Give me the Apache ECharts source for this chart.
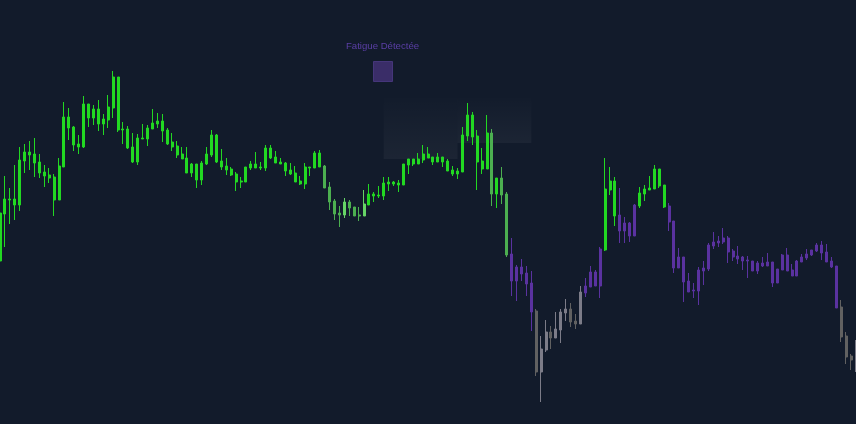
<!DOCTYPE html>
<html>
<head>
<meta charset="utf-8">
<script src="https://cdn.jsdelivr.net/npm/echarts@6/dist/echarts.min.js"></script>
<style>
  html, body { margin: 0; padding: 0; background: #121b2b; }
  #main { width: 856px; height: 424px; }
</style>
</head>
<body>
<div id="main"></div>
<script>
// candles: open, close, low, high
var open = [163,210,225,225,219,263,272,270,262,252,249,247,224,257,307,297,280,277,320,306,
  315,300,304,316,347,294,295,277,262,286,285,295,300,303,294,282,278,270,266,251,
  260,244,260,269,289,263,258,255,250,243,242,256,260,256,256,276,267,262,261,254,
  251,243,240,257,256,271,258,237,223,211,209,222,217,208,208,219,230,228,228,242,
  240,241,239,259,265,260,264,270,267,262,267,263,254,253,252,288,309,288,263,255,
  291,230,246,230,170,143,157,151,141,113,52,74,92,86,94,111,115,103,100,131,
  137,152,138,174,234,243,209,193,201,188,218,230,234,235,255,239,218,203,156,167,
  143,133,133,153,155,178,183,182,186,173,168,167,164,163,153,161,158,162,141,154,
  169,154,148,162,166,169,173,179,172,163,158,117,88,68,56];
var close = [211,225,224,219,264,272,269,261,251,248,246,224,258,307,296,279,277,320,306,315,
  300,305,317,347,294,295,276,262,286,285,296,301,303,293,280,277,269,265,251,260,
  244,261,270,289,262,257,254,249,242,242,257,260,256,257,276,266,261,260,253,250,
  242,240,257,256,271,257,236,222,210,209,222,216,208,209,220,230,228,229,241,240,
  242,239,260,265,260,265,270,266,262,267,262,253,250,250,289,309,287,262,255,291,
  230,246,229,169,143,157,150,140,112,52,75,92,86,95,112,115,102,100,132,138,
  152,138,175,235,243,208,193,201,188,219,231,235,236,255,238,217,202,156,167,142,
  132,134,154,156,179,182,181,186,172,167,165,163,163,153,161,158,162,141,155,169,
  153,148,163,167,170,174,179,171,162,157,116,87,67,64,76];
var low = [162,177,200,204,213,251,254,247,246,237,241,208,224,257,284,273,270,276,297,299,
  293,289,296,306,292,280,275,261,259,285,278,295,296,282,279,273,266,265,251,247,
  236,239,259,267,261,254,249,248,233,236,242,254,256,254,253,265,261,260,248,249,
  242,239,235,248,256,257,236,214,204,197,206,208,208,203,208,219,222,226,224,233,
  238,232,239,250,258,260,261,266,259,262,257,253,248,245,252,283,279,234,250,255,
  218,216,220,167,128,123,143,128,93,48,22,72,75,86,81,103,97,95,100,127,
  137,138,126,173,229,198,181,181,182,188,216,223,234,235,236,216,193,151,156,122,
  132,126,119,139,153,175,177,180,161,163,160,154,146,153,150,157,158,137,141,154,
  153,148,148,162,164,168,172,164,162,156,116,82,60,54,52];
var high = [216,248,236,259,277,280,283,286,270,259,256,250,266,322,316,298,289,328,320,319,
  324,310,329,353,347,302,298,291,290,300,299,315,311,310,296,291,283,277,277,261,
  260,263,277,294,290,275,266,257,252,247,257,263,272,262,279,279,273,266,262,261,
  258,248,261,257,273,274,259,242,225,218,226,224,217,217,234,240,232,238,247,247,
  243,244,260,265,265,271,279,277,267,271,267,265,258,256,297,321,312,294,276,309,
  295,246,257,232,186,159,165,158,153,115,88,104,98,112,115,125,121,110,138,146,
  158,154,177,266,257,247,236,207,202,220,237,239,248,259,255,239,221,203,176,167,
  151,141,157,163,181,192,188,196,188,175,178,168,168,163,163,167,171,162,155,170,
  176,160,164,170,175,174,181,183,180,167,158,124,92,70,84];
// colour state of each candle: g strong, m weak, l recovering, p fatigue, d / s exhausted
var state = ('gggggggggggggggggggggggggggggggggggggggggggggggggggggggggggggggggg' +
  'mmmmlmmml' + 'ggggggggggggggggggggggggg' + 'mgmm' + 'ppppp' + 'dssdsssdds' +
  'pppp' + 'ggg' + 'pppp' + 'gggggg' + 'ppppppppppppppppppppppppppppppppppp' + 'ddds').split('');

// shaded zone: [first candle, last candle, top value, bottom value]
var zones = [[78, 93, 326, 265], [93, 108, 326, 281]];

var stateColor = {
  g: '#22d822', m: '#4caf50', l: '#66d466', p: '#5a32a0', d: '#616161', s: '#7c7c88'
};

var days = open.map(function (v, i) { return String(i); });

var candles = open.map(function (o, i) {
  var c = stateColor[state[i]];
  return {
    value: [o, close[i], low[i], high[i]],
    itemStyle: { color: c, color0: c, borderColor: c, borderColor0: c }
  };
});

var zoneShade = new echarts.graphic.LinearGradient(0, 0, 0, 1, [
  { offset: 0, color: 'rgba(255,255,255,0.005)' },
  { offset: 1, color: 'rgba(255,255,255,0.045)' }
]);

var chart = echarts.init(document.getElementById('main'));
chart.setOption({
  backgroundColor: '#121b2b',
  animation: false,
  title: {
    text: 'Fatigue Détectée',
    left: 341,
    top: 36,
    textStyle: { color: '#5b3fa6', fontSize: 9.6, fontWeight: 'normal', fontFamily: 'Liberation Sans' }
  },
  legend: {
    left: 368,
    top: 56,
    icon: 'rect',
    itemWidth: 19,
    itemHeight: 20,
    formatter: function () { return ''; },
    data: [{ name: 'Fatigue Détectée', itemStyle: { color: '#3a2d68', borderColor: '#45367a', borderWidth: 1 } }]
  },
  grid: { left: 0, right: 0, top: 0, bottom: 0 },
  xAxis: {
    type: 'category',
    data: days,
    boundaryGap: false,
    show: false
  },
  yAxis: {
    type: 'value',
    min: 0,
    max: 424,
    show: false,
    splitLine: { show: false }
  },
  series: [{
    name: 'Fatigue Détectée',
    type: 'candlestick',
    barWidth: 2.5,
    itemStyle: { borderWidth: 1 },
    data: candles,
    markArea: {
      silent: true,
      itemStyle: { color: zoneShade },
      data: zones.map(function (z) {
        return [{ coord: [String(z[0]), z[2]] }, { coord: [String(z[1]), z[3]] }];
      })
    }
  }]
});
</script>
</body>
</html>
